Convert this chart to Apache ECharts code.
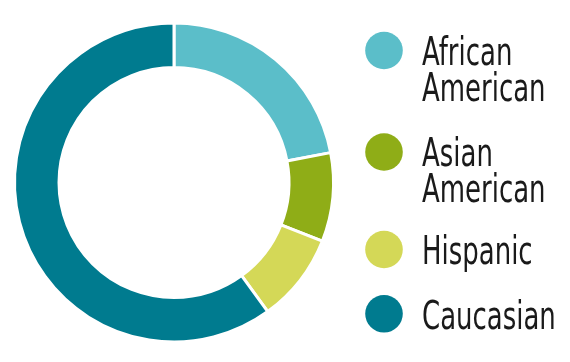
<!DOCTYPE html>
<html>
<head>
<meta charset="utf-8">
<script src="https://cdn.jsdelivr.net/npm/echarts@6/dist/echarts.min.js"></script>
<style>html,body{margin:0;padding:0;background:#fff;}#c{width:570px;height:362px;}</style>
</head>
<body>
<div id="c"></div>
<script>
const categories = ['African\nAmerican', 'Asian\nAmerican', 'Hispanic', 'Caucasian'];
const values = [22, 9, 9, 60];
const colors = ['#5bbec9', '#8fad17', '#d4d857', '#007b8f'];

const chart = echarts.init(document.getElementById('c'), null, {renderer: 'canvas'});

// legend layout (positions only)
const iconCenters = [50.5, 152, 249.5, 313.8];
const capCenters = [54.5, 156.2, 253.9, 318.9];
const FONT = "'DejaVu Sans Condensed', 'DejaVu Sans', sans-serif";
const legendGraphics = [];
categories.forEach((name, i) => {
  legendGraphics.push({
    type: 'circle',
    shape: {cx: 384, cy: iconCenters[i], r: 18.8},
    style: {fill: colors[i]},
    silent: true
  });
  legendGraphics.push({
    type: 'text',
    x: 422,
    y: capCenters[i] - 18,
    scaleX: 0.74,
    style: {
      text: name,
      font: '39px ' + FONT,
      fill: '#1a1a1a',
      lineHeight: 36,
      align: 'left',
      verticalAlign: 'top'
    },
    silent: true
  });
});

chart.setOption({
  animation: false,
  color: colors,
  graphic: legendGraphics,
  series: [{
    type: 'pie',
    center: [174, 182.5],
    radius: [115, 159.5],
    startAngle: 90,
    clockwise: true,
    label: {show: false},
    labelLine: {show: false},
    emphasis: {disabled: true},
    itemStyle: {borderColor: '#ffffff', borderWidth: 3},
    data: categories.map((n, i) => ({name: n, value: values[i]}))
  }]
});
</script>
</body>
</html>
